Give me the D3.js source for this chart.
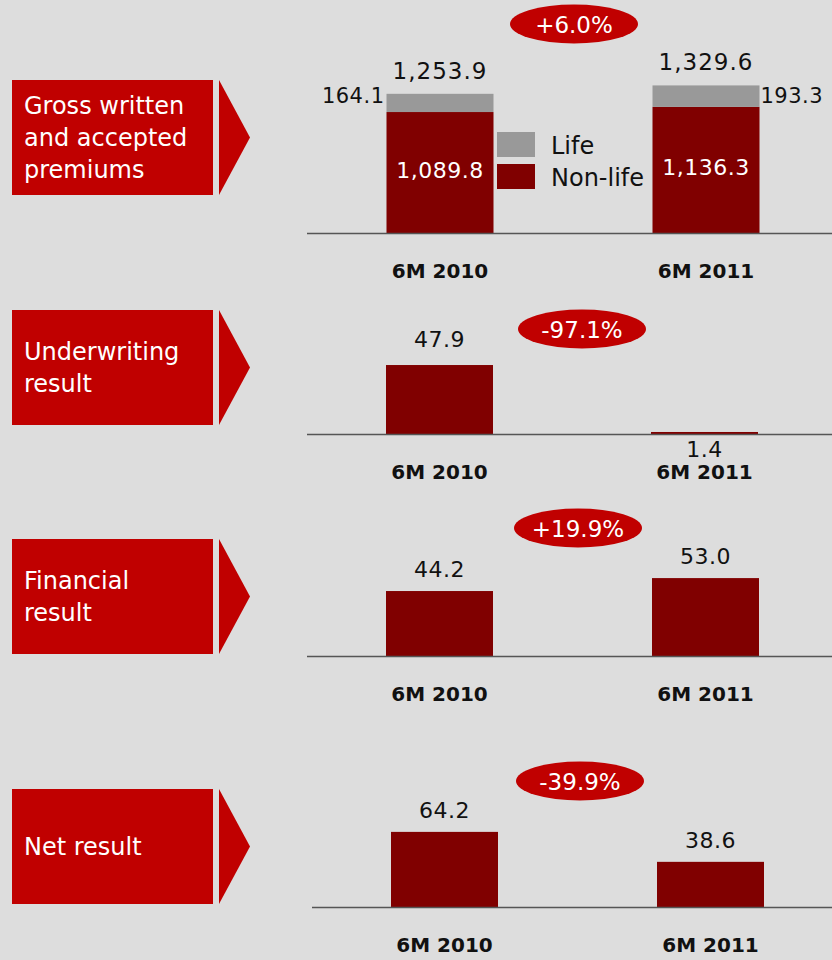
<!DOCTYPE html>
<html>
<head>
<meta charset="utf-8">
<script src="https://cdn.jsdelivr.net/npm/d3@7"></script>
<style>
  html, body { margin: 0; padding: 0; background: #dddddd; }
  svg { display: block; }
  text { font-family: "DejaVu Sans", Verdana, sans-serif; }
</style>
</head>
<body>
<svg id="chart" width="832" height="960"></svg>
<script>
// ---------- data ----------
const categories = ["6M 2010", "6M 2011"];
const premiumsNonLife = [1089.8, 1136.3];
const premiumsLife = [164.1, 193.3];
const premiumsTotal = [1253.9, 1329.6];
const underwritingResult = [47.9, 1.4];
const financialResult = [44.2, 53.0];
const netResult = [64.2, 38.6];
const changeLabels = ["+6.0%", "-97.1%", "+19.9%", "-39.9%"];
const panelTitles = [
  ["Gross written", "and accepted", "premiums"],
  ["Underwriting", "result"],
  ["Financial", "result"],
  ["Net result"]
];
const legendLabels = ["Life", "Non-life"];

// ---------- style ----------
const RED = "#c00000", DARK = "#800000", GREY = "#999999", AXIS = "#555555";
const fmt = d3.format(",.1f");
const svg = d3.select("#chart");

// layout per panel (positions only)
const layout = [
  { boxTop: 80,  base: 233, domainMax: 1500, rangeH: 166.5, x0: 440,   x1: 706,   lineX: 307, ell: [574, 24] },
  { boxTop: 310, base: 434, domainMax: 50,   rangeH: 72,    x0: 439.5, x1: 704.5, lineX: 307, ell: [582, 329] },
  { boxTop: 539, base: 656, domainMax: 60,   rangeH: 88.2,  x0: 439.5, x1: 705.5, lineX: 307, ell: [578, 528] },
  { boxTop: 789, base: 907, domainMax: 80,   rangeH: 93.6,  x0: 444.5, x1: 710.5, lineX: 312, ell: [580, 781] }
];
const BAR_W = 107;
const seriesSimple = [null, underwritingResult, financialResult, netResult];

layout.forEach((L, i) => {
  const g = svg.append("g");

  // left red title box + arrow
  g.append("rect").attr("x", 12).attr("y", L.boxTop).attr("width", 201).attr("height", 115).attr("fill", RED);
  g.append("path")
    .attr("d", `M219,${L.boxTop} L250,${L.boxTop + 57.5} L219,${L.boxTop + 115} Z`)
    .attr("fill", RED);
  const lines = panelTitles[i];
  const lh = 32;
  const firstBase = L.boxTop + 57.5 - (lines.length - 1) * lh / 2 + 8;
  g.append("text")
    .attr("fill", "#ffffff").attr("font-size", 24)
    .selectAll("tspan").data(lines).join("tspan")
    .attr("x", 24).attr("y", (d, j) => firstBase + j * lh)
    .text(d => d);

  // scales
  const x = d3.scalePoint().domain(categories).range([L.x0, L.x1]);
  const h = d3.scaleLinear().domain([0, L.domainMax]).range([0, L.rangeH]);
  const y = v => L.base - h(v);

  if (i === 0) {
    // stacked bars
    g.selectAll("rect.nl").data(categories).join("rect").attr("class", "nl")
      .attr("x", d => x(d) - BAR_W / 2).attr("width", BAR_W)
      .attr("y", (d, k) => y(premiumsNonLife[k]))
      .attr("height", (d, k) => h(premiumsNonLife[k]))
      .attr("fill", DARK);
    g.selectAll("rect.lf").data(categories).join("rect").attr("class", "lf")
      .attr("x", d => x(d) - BAR_W / 2).attr("width", BAR_W)
      .attr("y", (d, k) => y(premiumsNonLife[k] + premiumsLife[k]))
      .attr("height", (d, k) => h(premiumsLife[k]))
      .attr("fill", GREY);
    // inner non-life labels
    g.selectAll("text.nlv").data(categories).join("text").attr("class", "nlv")
      .attr("x", d => x(d)).attr("y", (d, k) => (y(premiumsNonLife[k]) + L.base) / 2 + 5)
      .attr("text-anchor", "middle").attr("fill", "#fff").attr("font-size", 22)
      .attr("letter-spacing", 0.5)
      .text((d, k) => fmt(premiumsNonLife[k]));
    // totals
    g.selectAll("text.tot").data(categories).join("text").attr("class", "tot")
      .attr("x", d => x(d)).attr("y", (d, k) => y(premiumsTotal[k]) - 15)
      .attr("text-anchor", "middle").attr("fill", "#111").attr("font-size", 23)
      .attr("letter-spacing", 1)
      .text((d, k) => fmt(premiumsTotal[k]));
    // life labels beside bars
    g.append("text").attr("x", x(categories[0]) - BAR_W / 2 - 2).attr("y", 103)
      .attr("text-anchor", "end").attr("fill", "#111").attr("font-size", 21).attr("letter-spacing", 0.5)
      .text(fmt(premiumsLife[0]));
    g.append("text").attr("x", x(categories[1]) + BAR_W / 2 + 1).attr("y", 103)
      .attr("text-anchor", "start").attr("fill", "#111").attr("font-size", 21).attr("letter-spacing", 0.5)
      .text(fmt(premiumsLife[1]));
    // legend
    const leg = g.append("g");
    [GREY, DARK].forEach((c, k) => {
      leg.append("rect").attr("x", 497).attr("y", 132 + k * 32).attr("width", 38).attr("height", 25).attr("fill", c);
      leg.append("text").attr("x", 551).attr("y", 154 + k * 32)
        .attr("fill", "#111").attr("font-size", 24).text(legendLabels[k]);
    });
  } else {
    const vals = seriesSimple[i];
    g.selectAll("rect.bar").data(categories).join("rect").attr("class", "bar")
      .attr("x", d => x(d) - BAR_W / 2).attr("width", BAR_W)
      .attr("y", (d, k) => y(vals[k]))
      .attr("height", (d, k) => h(vals[k]))
      .attr("fill", DARK);
    g.selectAll("text.val").data(categories).join("text").attr("class", "val")
      .attr("x", d => x(d))
      .attr("y", (d, k) => (h(vals[k]) < 10 ? L.base + 23 : y(vals[k]) - (i === 1 ? 18 : 14)))
      .attr("text-anchor", "middle").attr("fill", "#111").attr("font-size", 22)
      .attr("letter-spacing", 0.5)
      .text((d, k) => fmt(vals[k]));
  }

  // baseline
  g.append("line").attr("x1", L.lineX).attr("x2", 832).attr("y1", L.base + 0.5).attr("y2", L.base + 0.5)
    .attr("stroke", AXIS).attr("stroke-width", 1.5);

  // category labels
  g.selectAll("text.cat").data(categories).join("text").attr("class", "cat")
    .attr("x", d => x(d)).attr("y", L.base + 45)
    .attr("text-anchor", "middle").attr("fill", "#111").attr("font-size", 20).attr("font-weight", "bold")
    .text(d => d);

  // change ellipse
  g.append("ellipse").attr("cx", L.ell[0]).attr("cy", L.ell[1]).attr("rx", 64).attr("ry", 19.5).attr("fill", RED);
  g.append("text").attr("x", L.ell[0]).attr("y", L.ell[1] + 8.5)
    .attr("text-anchor", "middle").attr("fill", "#fff").attr("font-size", 23)
    .text(changeLabels[i]);
});
</script>
</body>
</html>
